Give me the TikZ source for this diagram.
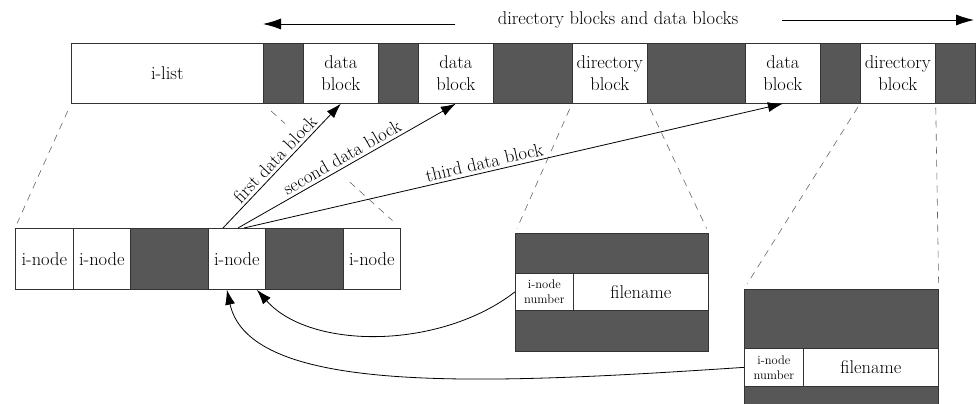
\documentclass[tikz,border=0pt]{standalone}
\usetikzlibrary{arrows.meta}
\definecolor{shade}{HTML}{575757}
\begin{document}
\begin{tikzpicture}[x=1pt,y=-1pt,
  seg/.style={draw=black!80, line width=0.7pt, inner sep=0pt, anchor=north west, align=center, font=\fontsize{18.5}{22}\selectfont},
  wseg/.style={seg, fill=white},
  gseg/.style={seg, fill=shade},
  small/.style={font=\fontsize{12.5}{15}\selectfont},
  conn/.style={line width=0.8pt, -{Latex[length=15pt,width=10pt]}},
  toparr/.style={line width=0.8pt, -{Latex[length=18pt,width=11pt]}},
  zoomline/.style={dash pattern=on 7pt off 6pt, draw=black!60, line width=0.6pt},
  lbl/.style={font=\fontsize{18.5}{22}\selectfont, sloped, above, inner sep=3pt}
]
\useasboundingbox (0,0) rectangle (978,404);

% ---- top bar ----
\node[wseg, minimum width=192pt, minimum height=60pt] (tA) at (71,43) {i-list};
\node[gseg, minimum width=40pt, minimum height=60pt] (tB) at (263,43) {};
\node[wseg, minimum width=75pt, minimum height=60pt] (tC) at (303,43) {data\\block};
\node[gseg, minimum width=40pt, minimum height=60pt] (tD) at (378,43) {};
\node[wseg, minimum width=75pt, minimum height=60pt] (tE) at (418,43) {data\\block};
\node[gseg, minimum width=79pt, minimum height=60pt] (tF) at (493,43) {};
\node[wseg, minimum width=75pt, minimum height=60pt] (tG) at (572,43) {directory\\block};
\node[gseg, minimum width=98pt, minimum height=60pt] (tH) at (647,43) {};
\node[wseg, minimum width=75pt, minimum height=60pt] (tI) at (745,43) {data\\block};
\node[gseg, minimum width=40pt, minimum height=60pt] (tJ) at (820,43) {};
\node[wseg, minimum width=75pt, minimum height=60pt] (tK) at (860,43) {directory\\block};
\node[gseg, minimum width=40pt, minimum height=60pt] (tL) at (935,43) {};

% ---- title with arrows ----
\node[font=\fontsize{18.5}{22}\selectfont, inner sep=0pt] (title) at (618,20) {directory blocks and data blocks};
\coordinate (lS) at (455,24);
\coordinate (lE) at (263,24);
\coordinate (rS) at (782,20);
\coordinate (rE) at (974,20);
\draw[toparr] (lS) -- (lE);
\draw[toparr] (rS) -- (rE);

% ---- i-node bar ----
\node[wseg, minimum width=58pt, minimum height=61pt] (b1) at (15,228) {i-node};
\node[wseg, minimum width=57pt, minimum height=61pt] (b2) at (73,228) {i-node};
\node[gseg, minimum width=78pt, minimum height=61pt] (b3) at (130,228) {};
\node[wseg, minimum width=57pt, minimum height=61pt] (b4) at (208,228) {i-node};
\node[gseg, minimum width=78pt, minimum height=61pt] (b5) at (265,228) {};
\node[wseg, minimum width=57pt, minimum height=61pt] (b6) at (343,228) {i-node};

% ---- directory block 1 ----
\node[gseg, minimum width=193pt, minimum height=40pt] (d1top) at (515,233) {};
\node[wseg, small, minimum width=58pt, minimum height=37pt] (d1num) at (515,273) {i-node\\number};
\node[wseg, minimum width=135pt, minimum height=37pt] (d1name) at (573,273) {filename};
\node[gseg, minimum width=193pt, minimum height=41pt] (d1bot) at (515,310) {};

% ---- directory block 2 ----
\node[gseg, minimum width=194pt, minimum height=59pt] (d2top) at (744,289) {};
\node[wseg, small, minimum width=59pt, minimum height=38pt] (d2num) at (744,348) {i-node\\number};
\node[wseg, minimum width=135pt, minimum height=38pt] (d2name) at (803,348) {filename};
\node[gseg, minimum width=194pt, minimum height=22pt] (d2bot) at (744,386) {};

% ---- dashed zoom lines ----
\draw[zoomline, shorten <=8pt, shorten >=5pt] (tA.south west) -- (b1.north west);
\path (tB.south west) -- (b6.north east)
  coordinate[pos=0.06] (g0) coordinate[pos=0.16] (g1)
  coordinate[pos=0.63] (g2) coordinate[pos=0.94] (g3);
\draw[zoomline] (g0) -- (g1);
\draw[zoomline] (g2) -- (g3);
\draw[zoomline, shorten <=6pt, shorten >=5pt] (tG.south west) -- (d1top.north west);
\draw[zoomline, shorten <=6pt, shorten >=5pt] (tG.south east) -- (d1top.north east);
\draw[zoomline, shorten <=4pt, shorten >=6pt] (tK.south west) -- (d2top.north west);
\draw[zoomline, shorten <=4pt, shorten >=6pt] (tK.south east) -- (d2top.north east);

% ---- pointers from i-node to data blocks ----
\draw[conn] ([xshift=15pt]b4.north west) -- node[lbl, pos=0.5] {first data block} (tC.south);
\draw[conn] ([xshift=30pt]b4.north west) -- node[lbl, pos=0.5] {second data block} (tE.south);
\draw[conn] ([xshift=36pt]b4.north west) -- node[lbl, pos=0.45] {third data block} (tI.south);

% ---- pointers from directory entries to i-node ----
\draw[conn] (d1num.west) .. controls (440,350) and (310,350) .. ([xshift=20pt]b4.south);
\draw[conn] (d2num.west) .. controls (480,385) and (250,395) .. ([xshift=-10pt]b4.south);
\end{tikzpicture}
\end{document}
